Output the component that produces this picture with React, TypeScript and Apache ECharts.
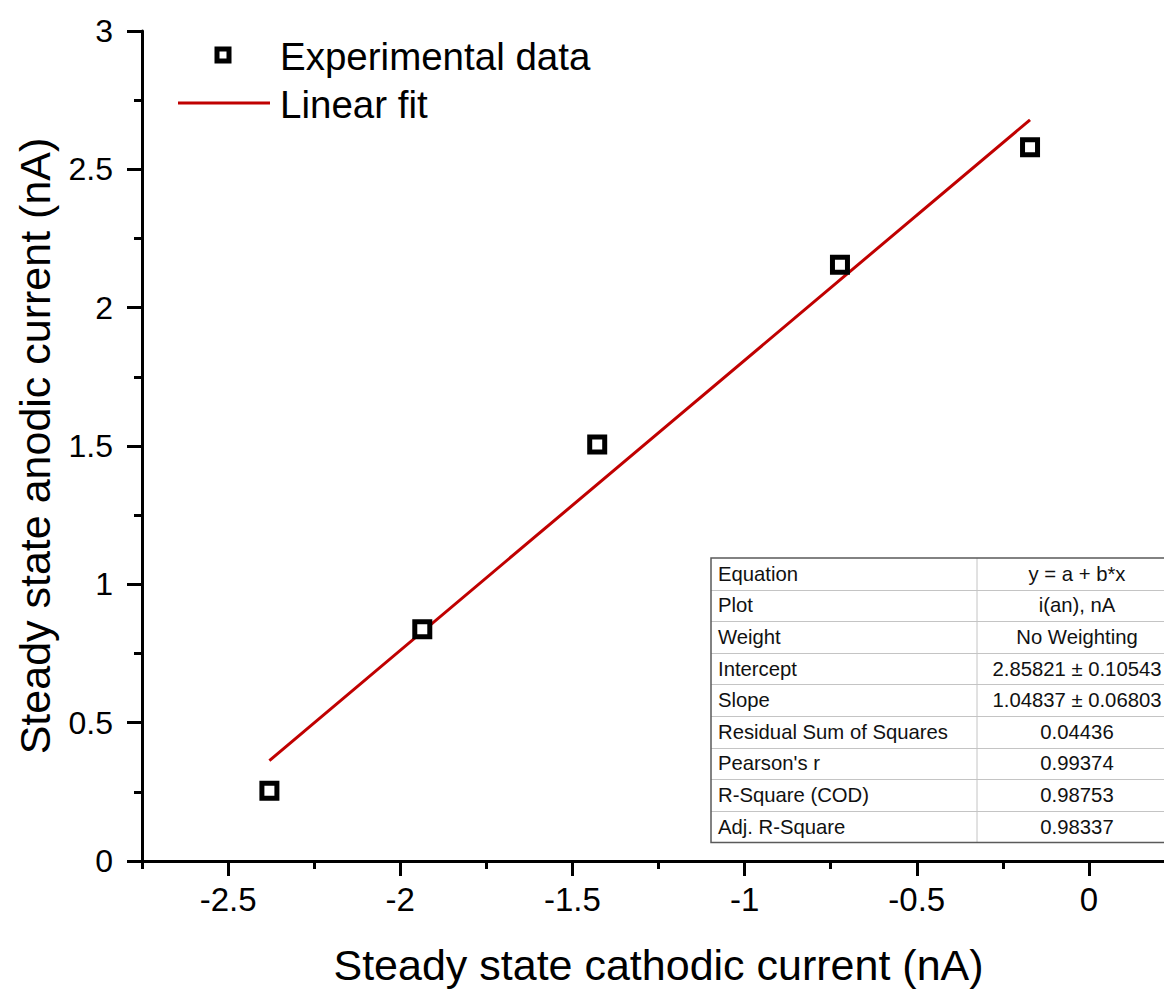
import React, { useEffect, useRef } from "react";
import * as echarts from "echarts";

// Measured steady-state currents (nA)
const cathodicCurrent = [-2.38, -1.936, -1.428, -0.723, -0.171];
const anodicCurrent = [0.254, 0.838, 1.505, 2.155, 2.58];

// Linear fit parameters (y = a + b*x)
const fitIntercept = 2.85821;
const fitSlope = 1.04837;

const xMajorTicks = [-2.5, -2, -1.5, -1, -0.5, 0];

const fitLabels = [
  "Equation",
  "Plot",
  "Weight",
  "Intercept",
  "Slope",
  "Residual Sum of Squares",
  "Pearson's r",
  "R-Square (COD)",
  "Adj. R-Square",
];
const fitValues = [
  "y = a + b*x",
  "i(an), nA",
  "No Weighting",
  "2.85821 ± 0.10543",
  "1.04837 ± 0.06803",
  "0.04436",
  "0.99374",
  "0.98753",
  "0.98337",
];

const FONT = "'Liberation Sans', Arial, sans-serif";

function buildTable(): any[] {
  const left = 711;
  const top = 558;
  const mid = 977;
  const right = 1177;
  const rowH = 31.6;
  const n = fitLabels.length;
  const bottom = top + rowH * n;
  const els: any[] = [];
  els.push({
    type: "rect",
    shape: { x: left, y: top, width: right - left, height: bottom - top },
    style: { fill: "#ffffff", stroke: "none" },
    z: 10,
  });
  for (let i = 1; i < n; i++) {
    const y = Math.round(top + rowH * i) + 0.5;
    els.push({
      type: "line",
      shape: { x1: left, y1: y, x2: right, y2: y },
      style: { stroke: "#c4c4c4", lineWidth: 1 },
      z: 11,
    });
  }
  els.push({
    type: "line",
    shape: { x1: mid, y1: top, x2: mid, y2: bottom },
    style: { stroke: "#c4c4c4", lineWidth: 1 },
    z: 11,
  });
  els.push({
    type: "rect",
    shape: { x: left, y: top, width: right - left, height: bottom - top },
    style: { fill: "none", stroke: "#5a5a5a", lineWidth: 1.5 },
    z: 12,
  });
  fitLabels.forEach((label, i) => {
    const cy = top + rowH * i + rowH / 2;
    els.push({
      type: "text",
      x: left + 7,
      y: cy,
      style: {
        text: label,
        font: `20.3px ${FONT}`,
        fill: "#111111",
        align: "left",
        verticalAlign: "middle",
      },
      z: 13,
    });
    els.push({
      type: "text",
      x: (mid + right) / 2,
      y: cy,
      style: {
        text: fitValues[i],
        font: `20.3px ${FONT}`,
        fill: "#111111",
        align: "center",
        verticalAlign: "middle",
      },
      z: 13,
    });
  });
  return els;
}

function buildLegend(): any[] {
  return [
    {
      type: "rect",
      shape: { x: 217, y: 49, width: 12, height: 12 },
      style: { fill: "#ffffff", stroke: "#000000", lineWidth: 5 },
      z: 10,
    },
    {
      type: "text",
      x: 280,
      y: 56,
      style: {
        text: "Experimental data",
        font: `38.5px ${FONT}`,
        fill: "#000000",
        align: "left",
        verticalAlign: "middle",
      },
      z: 10,
    },
    {
      type: "line",
      shape: { x1: 178, y1: 103, x2: 270, y2: 103 },
      style: { stroke: "#c00000", lineWidth: 3 },
      z: 10,
    },
    {
      type: "text",
      x: 280,
      y: 104,
      style: {
        text: "Linear fit",
        font: `38.5px ${FONT}`,
        fill: "#000000",
        align: "left",
        verticalAlign: "middle",
      },
      z: 10,
    },
  ];
}

export default function App() {
  const ref = useRef<HTMLDivElement>(null);

  useEffect(() => {
    if (!ref.current) return;
    const chart = echarts.init(ref.current, null, { renderer: "svg" });

    const xMin = Math.min(...cathodicCurrent);
    const xMax = Math.max(...cathodicCurrent);
    const fitLine = [
      [xMin, fitIntercept + fitSlope * xMin],
      [xMax, fitIntercept + fitSlope * xMax],
    ];

    const axisLine = { show: true, onZero: false, lineStyle: { color: "#000", width: 3 } };

    chart.setOption({
      animation: false,
      backgroundColor: "#ffffff",
      grid: { left: 142, right: 5, top: 31, bottom: 129, containLabel: false },
      xAxis: [
        {
          type: "value",
          position: "bottom",
          min: -2.75,
          max: 0.25,
          axisLine,
          axisTick: {
            show: true,
            length: 15,
            customValues: xMajorTicks,
            lineStyle: { color: "#000", width: 3 },
          },
          axisLabel: {
            customValues: xMajorTicks,
            fontSize: 33,
            fontFamily: FONT,
            color: "#000",
            margin: 22,
          },
          splitLine: { show: false },
          name: "Steady state cathodic current (nA)",
          nameLocation: "middle",
          nameGap: 82,
          nameTextStyle: { fontSize: 43, fontFamily: FONT, color: "#000" },
        },
        {
          type: "value",
          position: "bottom",
          min: -2.75,
          max: 0.25,
          interval: 0.25,
          axisLine: { show: false, onZero: false },
          axisTick: { show: true, length: 8, lineStyle: { color: "#000", width: 3 } },
          axisLabel: { show: false },
          splitLine: { show: false },
        },
      ],
      yAxis: {
        type: "value",
        position: "left",
        min: 0,
        max: 3,
        interval: 0.5,
        axisLine,
        axisTick: { show: true, length: 15, lineStyle: { color: "#000", width: 3 } },
        minorTick: { show: true, splitNumber: 2, length: 8, lineStyle: { color: "#000", width: 3 } },
        axisLabel: { fontSize: 32, fontFamily: FONT, color: "#000", margin: 29 },
        splitLine: { show: false },
        name: "Steady state anodic current (nA)",
        nameLocation: "middle",
        nameGap: 86,
        nameTextStyle: { fontSize: 43, fontFamily: FONT, color: "#000" },
      },
      series: [
        {
          name: "Linear fit",
          type: "line",
          data: fitLine,
          showSymbol: false,
          lineStyle: { color: "#c00000", width: 3 },
          z: 2,
        },
        {
          name: "Experimental data",
          type: "scatter",
          data: cathodicCurrent.map((x, i) => [x, anodicCurrent[i]]),
          symbol: "rect",
          symbolSize: 15,
          itemStyle: { color: "#ffffff", borderColor: "#000000", borderWidth: 5, opacity: 1 },
          z: 3,
        },
      ],
      graphic: [...buildLegend(), ...buildTable()],
    });

    return () => chart.dispose();
  }, []);

  return (
    <div
      style={{
        position: "fixed",
        left: 0,
        top: 0,
        width: 1164,
        height: 991,
        overflow: "hidden",
        background: "#ffffff",
      }}
    >
      <div ref={ref} style={{ width: 1180, height: 991 }} />
    </div>
  );
}
